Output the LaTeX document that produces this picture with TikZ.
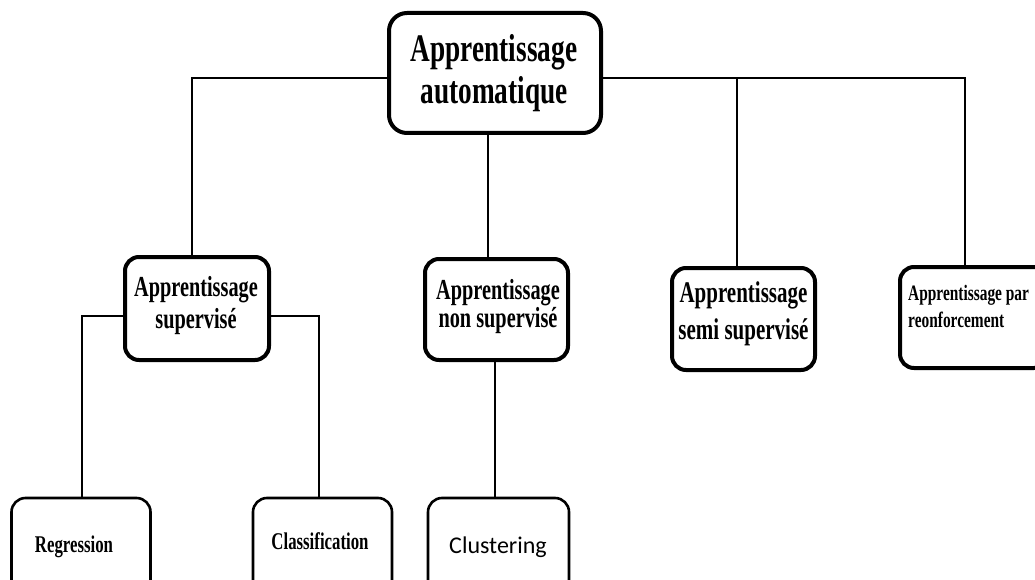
\documentclass[tikz,border=0pt]{standalone}
\usepackage{fontspec}
\usetikzlibrary{backgrounds}
\setmainfont{Liberation Serif}
\newfontfamily\cond[FakeStretch=0.7]{Liberation Serif}
\newfontfamily\clfont{Carlito}
\begin{document}
\begin{tikzpicture}[x=1pt,y=-1pt,
  bigbox/.style={draw, line width=4pt, rounded corners=18pt, fill=white, inner sep=0pt, align=center},
  midbox/.style={draw, line width=4pt, rounded corners=14pt, fill=white, inner sep=0pt, align=center,
    minimum width=143pt, minimum height=102pt},
  leafbox/.style={draw, line width=2.6pt, rounded corners=14pt, fill=white, inner sep=0pt, align=center,
    minimum width=139pt, minimum height=104pt},
  conn/.style={line width=2.2pt},
  lbl/.style={inner sep=0pt, align=center}]
\clip (0,0) rectangle (1035,580);

% connector guide coordinates
\coordinate (gtop) at (0,78);
\coordinate (gsup) at (0,316);
\coordinate (xl) at (192,0);
\coordinate (xm) at (488,0);
\coordinate (xs) at (737,0);
\coordinate (xr) at (965,0);
\coordinate (xc) at (319,0);
\coordinate (xcl) at (495,0);
\coordinate (xrg) at (82,0);

% boxes
\node[bigbox, minimum width=212pt, minimum height=120pt] (root) at (495,73) {};
\node[lbl, font=\cond\bfseries\fontsize{39}{42}\selectfont] (roott) at (494,73) {Apprentissage\\automatique};

\node[midbox, minimum width=144pt, minimum height=103pt] (sup) at (197,308.5) {};
\node[lbl, font=\cond\bfseries\fontsize{29}{32}\selectfont] (supt) at (196,306) {Apprentissage\\supervisé};

\node[midbox, minimum height=101pt] (nsup) at (496.5,309.5) {};
\node[lbl, font=\cond\bfseries\fontsize{29}{28}\selectfont] (nsupt) at (498,307) {Apprentissage\\non supervisé};

\node[midbox] (semi) at (743.5,319) {};
\node[lbl, font=\cond\bfseries\fontsize{30}{37}\selectfont] (semit) at (743.5,314) {Apprentissage\\semi supervisé};

\node[midbox, minimum width=148pt, minimum height=101pt] (renf) at (974,317.5) {};
\node[lbl, align=left, anchor=base west, font=\cond\bfseries\fontsize{22}{27}\selectfont] (renft) at (908,327) {Apprentissage par\\reonforcement};

\node[leafbox] (reg) at (81,550) {};
\node[lbl, font=\cond\bfseries\fontsize{24}{28}\selectfont, anchor=base] (regt) at (74,552) {Regression};

\node[leafbox] (cls) at (322.5,550) {};
\node[lbl, font=\cond\bfseries\fontsize{24}{28}\selectfont, anchor=base] (clst) at (320,549) {Classification};

\node[leafbox, minimum width=141pt] (clu) at (498.5,550) {};
\node[lbl, font=\clfont\fontsize{24}{28}\selectfont, anchor=base] (clut) at (498,553) {Clustering};

% connectors behind the boxes
\begin{pgfonlayer}{background}
\draw[conn] (root.west |- gtop) -- (xl |- gtop) -- (xl |- sup.north);
\draw[conn] (root.east |- gtop) -- (xr |- gtop) -- (xr |- renf.north);
\draw[conn] (xs |- gtop) -- (xs |- semi.north);
\draw[conn] (xm |- root.south) -- (xm |- nsup.north);
\draw[conn] (sup.west |- gsup) -- (xrg |- gsup) -- (xrg |- reg.north);
\draw[conn] (sup.east |- gsup) -- (xc |- gsup) -- (xc |- cls.north);
\draw[conn] (xcl |- nsup.south) -- (xcl |- clu.north);
\end{pgfonlayer}
\end{tikzpicture}
\end{document}
